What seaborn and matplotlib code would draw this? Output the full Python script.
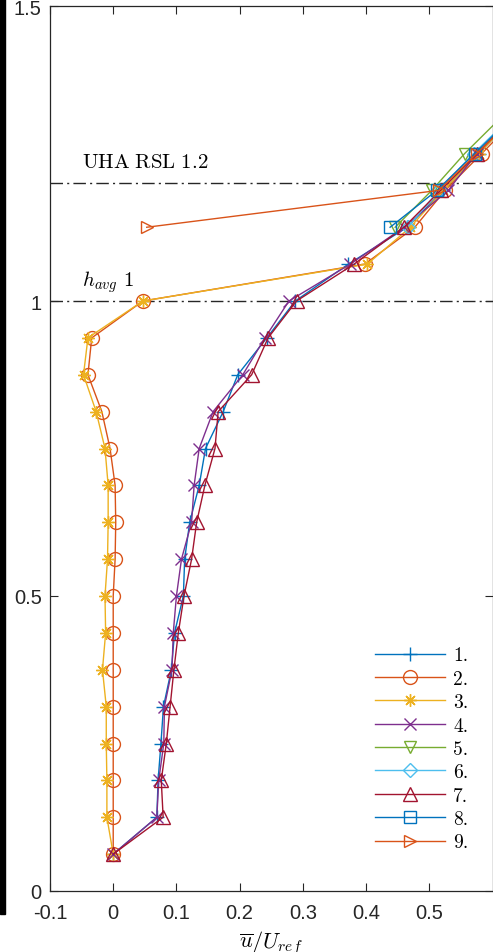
import matplotlib
matplotlib.use("Agg")
import matplotlib.pyplot as plt
import seaborn as sns
import numpy as np
from matplotlib.patches import Rectangle

# normalised heights z/h (16 levels inside the canopy + 5 above)
z_all = [0.0625 * k for k in range(1, 22)]
z_top = z_all[17:]  # 1.125 .. 1.3125

u1 = [0.0, 0.069, 0.071, 0.0755, 0.0795, 0.092, 0.097, 0.111, 0.113, 0.121, 0.136,
      0.146, 0.174, 0.197, 0.243, 0.288, 0.372, 0.465, 0.522, 0.578, 0.635]
u2 = [0.0, 0.0, 0.0, 0.0, 0.0, 0.0, 0.0, 0.0, 0.003, 0.004, 0.003,
      -0.005, -0.018, -0.040, -0.034, 0.047, 0.398, 0.477, 0.525, 0.583, 0.640]
u3 = [0.0, -0.010, -0.010, -0.011, -0.011, -0.017, -0.012, -0.013, -0.009, -0.008, -0.008,
      -0.013, -0.027, -0.047, -0.040, 0.047, 0.402, 0.470, 0.522, 0.578, 0.636]
u4 = [0.0, 0.069, 0.072, 0.080, 0.081, 0.093, 0.095, 0.100, 0.108, 0.124, 0.128,
      0.136, 0.158, 0.205, 0.240, 0.278, 0.375, 0.460, 0.530, 0.575, 0.632]
u7 = [0.0, 0.079, 0.076, 0.084, 0.090, 0.096, 0.103, 0.112, 0.124, 0.132, 0.145,
      0.161, 0.166, 0.219, 0.245, 0.290, 0.381, 0.460, 0.518, 0.576, 0.633]
u5 = [0.446, 0.504, 0.556, 0.615]
u6 = [0.466, 0.515, 0.570, 0.630]
u8 = [0.438, 0.512, 0.572, 0.632]
u9 = [0.053, 0.515, 0.575, 0.635]

labels = ["1.", "2.", "3.", "4.", "5.", "6.", "7.", "8.", "9."]
series = [(u1, z_all), (u2, z_all), (u3, z_all), (u4, z_all), (u5, z_top),
          (u6, z_top), (u7, z_all), (u8, z_top), (u9, z_top)]
colors = ["#0072BD", "#D95319", "#EDB120", "#7E2F8E", "#77AC30",
          "#4DBEEE", "#A2142F", "#0072BD", "#D95319"]
markers = ["+", "o", (8, 2, 0), "x", "v", "D", "^", "s", ">"]
msizes = [10, 10, 9, 8, 9, 7, 10, 8, 9]

plt.rcParams["mathtext.fontset"] = "cm"
plt.rcParams["font.family"] = ["Liberation Sans", "DejaVu Sans"]

fig = plt.figure(figsize=(4.93, 9.53), dpi=100)
ax = fig.add_axes([50 / 493, 1 - 892 / 953, 442.5 / 493, 885 / 953])

for (u, z), lab, c, m, ms in zip(series, labels, colors, markers, msizes):
    sns.lineplot(x=u, y=z, orient="y", sort=False, estimator=None, ax=ax,
                 color=c, marker=m, markersize=ms, mfc="none", mec=c,
                 mew=1.0, lw=1.0, label=lab)

for h in [1.0, 1.2]:
    ax.axhline(h, color="#262626", lw=1.0, dashes=(9, 3, 1.5, 3), zorder=0.5)

ax.text(-0.049, 1.236, r"$\mathrm{UHA\ RSL\ 1.2}$", fontsize=15, va="center", ha="left")
ax.text(-0.049, 1.034, r"$h_{avg}\ 1$", fontsize=15, va="center", ha="left")

ax.set_xlim(-0.1, 0.6)
ax.set_ylim(0, 1.5)
ax.set_xticks([-0.1, 0, 0.1, 0.2, 0.3, 0.4, 0.5])
ax.set_xticklabels(["-0.1", "0", "0.1", "0.2", "0.3", "0.4", "0.5"])
ax.set_yticks([0, 0.5, 1, 1.5])
ax.set_yticklabels(["0", "0.5", "1", "1.5"])
ax.tick_params(direction="in", length=6, width=0.8, color="#262626",
               labelsize=14.5, top=True, right=True, labelcolor="#262626")
ax.tick_params(axis="x", pad=9)
ax.tick_params(axis="y", pad=6)
for s in ax.spines.values():
    s.set_color("#262626")
    s.set_linewidth(0.9)
ax.set_xlabel(r"$\overline{u}/U_{ref}$", fontsize=16, labelpad=4)
ax.set_ylabel("")

handles, labs = ax.get_legend_handles_labels()
ax.legend(handles, labs, loc="lower right", bbox_to_anchor=(0.985, 0.025),
          frameon=False, prop={"family": "cmr10", "size": 14},
          handlelength=3.6, labelspacing=0.28, handletextpad=0.4)

# black bar along the left edge of the picture
fig.patches.append(Rectangle((0, 1 - 915 / 953), 5 / 493, 915 / 953,
                             transform=fig.transFigure, color="black", zorder=5))

fig.savefig("out.png", dpi=100)
